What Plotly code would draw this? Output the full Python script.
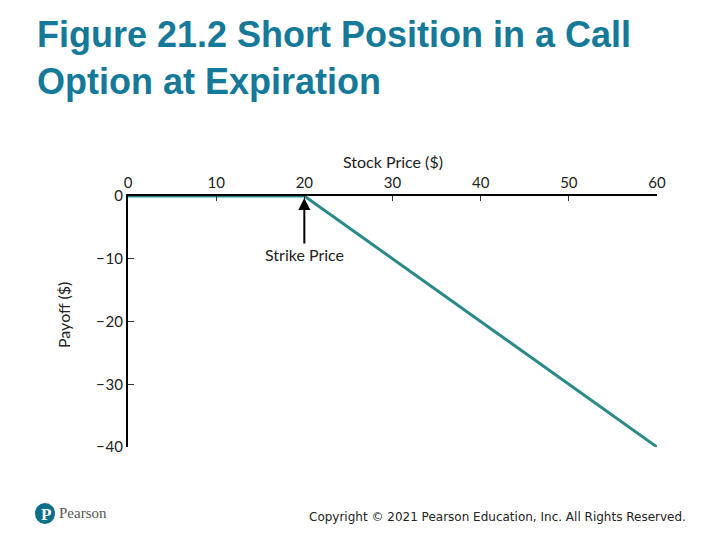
import plotly.graph_objects as go

stock_price = [0, 20, 60]
payoff = [0, 0, -40]
x_ticks = [0, 10, 20, 30, 40, 50, 60]
y_ticks = [0, -10, -20, -30, -40]
y_tick_labels = ["0", "\u2212\u200a10", "\u2212\u200a20", "\u2212\u200a30", "\u2212\u200a40"]
strike = 20

# page has an 8px body margin; figure sized to fit the 720x540 window
OFF = 8
W, H = 720 - OFF, 540 - OFF


def px(x):
    return (x - OFF) / W


def py(y):
    return 1 - (y - OFF) / H


x0p, x1p = 128, 657
y0p, y1p = 196, 447

fig = go.Figure()
fig.add_trace(go.Scatter(x=stock_price, y=payoff, mode="lines",
                         line=dict(color="#2a8a8a", width=3), cliponaxis=False,
                         hoverinfo="skip", showlegend=False))

axfont = dict(family="Lato, Open Sans, sans-serif", size=15, color="#222")
fig.update_layout(
    width=W, height=H, margin=dict(l=0, r=0, t=0, b=0, pad=0),
    paper_bgcolor="white", plot_bgcolor="white",
    xaxis=dict(domain=[px(x0p), px(x1p)], range=[0, 60], side="top",
               tickvals=x_ticks, ticks="inside", ticklen=5, tickcolor="#333",
               showline=True, linecolor="black", linewidth=2, showgrid=False,
               zeroline=False, tickfont=axfont, ticklabelstandoff=0,
               automargin=False),
    yaxis=dict(domain=[py(y1p), py(y0p)], range=[-40, 0],
               tickvals=y_ticks, ticktext=y_tick_labels, ticks="inside",
               ticklen=6, tickcolor="#333", showline=True, linecolor="black",
               linewidth=2, showgrid=False, zeroline=False, tickfont=axfont,
               automargin=False),
    showlegend=False,
)

# Title
fig.add_annotation(xref="paper", yref="paper", x=px(35), y=py(12),
                   xanchor="left", yanchor="top", align="left", showarrow=False,
                   text="<b>Figure 21.2 Short Position in a Call<br>Option at Expiration</b>",
                   font=dict(family="Liberation Sans, Arial, sans-serif",
                             size=36, color="#15799a"))
# Axis titles
fig.add_annotation(xref="paper", yref="paper", x=px(393), y=py(161),
                   xanchor="center", yanchor="middle",
                   showarrow=False, text="Stock Price ($)",
                   font=dict(family="Lato, sans-serif", size=16, color="#222"))
fig.add_annotation(xref="paper", yref="paper", x=px(63), y=py(315),
                   xanchor="center", yanchor="middle",
                   showarrow=False, text="Payoff ($)", textangle=-90,
                   font=dict(family="Lato, sans-serif", size=16, color="#222"))
# Strike price arrow
fig.add_annotation(x=strike, y=-0.3, ax=strike, ay=-7.8, xref="x", yref="y",
                   axref="x", ayref="y", showarrow=True, arrowhead=2,
                   arrowsize=1.2, arrowwidth=2, arrowcolor="black", text="")
fig.add_annotation(x=strike, y=-9.4, xref="x", yref="y", showarrow=False,
                   xanchor="center", yanchor="middle",
                   text="Strike Price",
                   font=dict(family="Lato, sans-serif", size=16, color="#222"))
# Footer
fig.add_shape(type="circle", xref="paper", yref="paper", layer="below",
              x0=px(35), x1=px(55), y0=py(524), y1=py(503),
              fillcolor="#0e6f89", line=dict(width=0))
fig.add_annotation(xref="paper", yref="paper", x=px(45.5), y=py(514),
                   xanchor="center", yanchor="middle",
                   showarrow=False, text="<b>P</b>",
                   font=dict(family="Liberation Serif, serif", size=17, color="white"))
fig.add_annotation(xref="paper", yref="paper", x=px(57), y=py(513),
                   xanchor="left", yanchor="middle", showarrow=False, text="Pearson",
                   font=dict(family="Liberation Serif, serif", size=15, color="#555"))
fig.add_annotation(xref="paper", yref="paper", x=px(688), y=py(517),
                   xanchor="right", yanchor="middle", showarrow=False,
                   text="Copyright \u00a9 2021 Pearson Education, Inc. All Rights Reserved.",
                   font=dict(family="DejaVu Sans, Verdana, sans-serif", size=12, color="#222"))

fig.write_html("out.html")
